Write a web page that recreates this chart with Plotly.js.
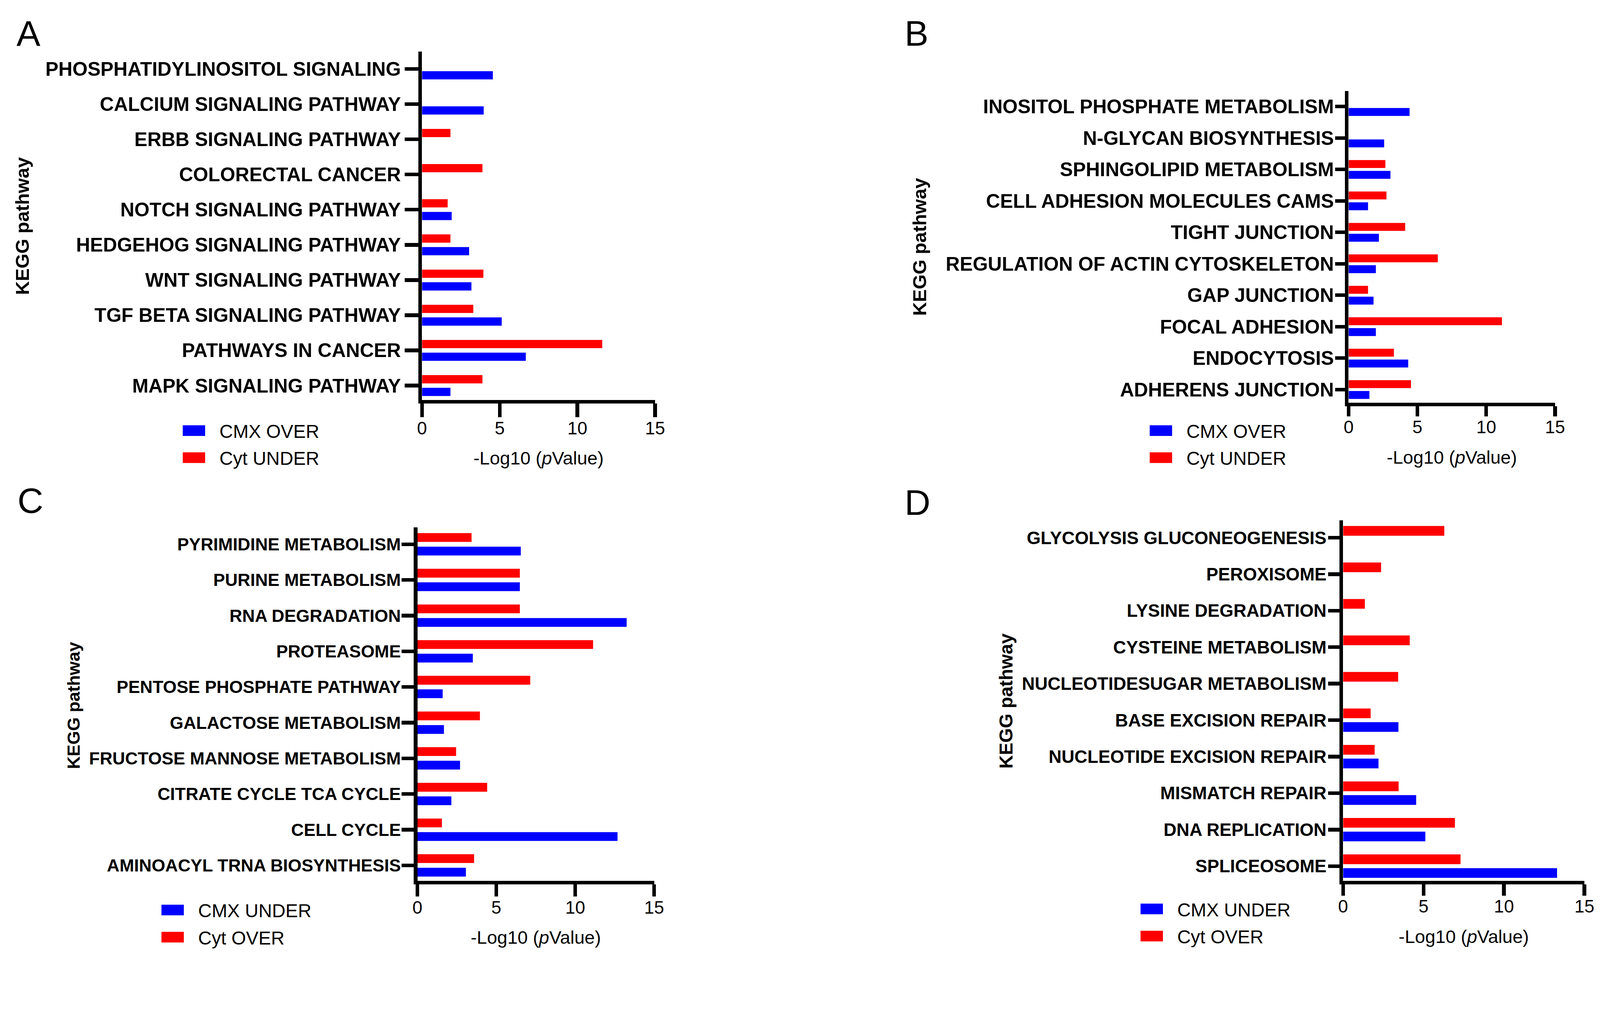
<!DOCTYPE html>
<html><head><meta charset="utf-8">
<script src="https://cdn.plot.ly/plotly-3.0.1.min.js"></script>
<style>
html,body{margin:0;padding:0;background:#fff;overflow:hidden;}
#wrap{position:absolute;left:0;top:0;width:1744px;height:1049.6px;transform-origin:0 0;background:#fff;}
.p{position:absolute;}
</style></head><body>
<div id="wrap">
<div id="pA" class="p"></div>
<div id="pB" class="p"></div>
<div id="pC" class="p"></div>
<div id="pD" class="p"></div>
</div>
<script>
// ---------- data (categories listed top to bottom) ----------
const catsA = ["PHOSPHATIDYLINOSITOL SIGNALING","CALCIUM SIGNALING PATHWAY","ERBB SIGNALING PATHWAY","COLORECTAL CANCER","NOTCH SIGNALING PATHWAY","HEDGEHOG SIGNALING PATHWAY","WNT SIGNALING PATHWAY","TGF BETA SIGNALING PATHWAY","PATHWAYS IN CANCER","MAPK SIGNALING PATHWAY"];
const cmxOverA = [4.56, 3.97, null, null, 1.91, 3.03, 3.18, 5.13, 6.68, 1.83];
const cytUnderA = [null, null, 1.83, 3.89, 1.65, 1.83, 3.95, 3.30, 11.60, 3.89];

const catsB = ["INOSITOL PHOSPHATE METABOLISM","N-GLYCAN BIOSYNTHESIS","SPHINGOLIPID METABOLISM","CELL ADHESION MOLECULES CAMS","TIGHT JUNCTION","REGULATION OF ACTIN CYTOSKELETON","GAP JUNCTION","FOCAL ADHESION","ENDOCYTOSIS","ADHERENS JUNCTION"];
const cmxOverB = [4.43, 2.58, 3.04, 1.41, 2.2, 1.98, 1.81, 1.98, 4.33, 1.51];
const cytUnderB = [null, null, 2.67, 2.75, 4.11, 6.48, 1.41, 11.14, 3.29, 4.53];

const catsC = ["PYRIMIDINE METABOLISM","PURINE METABOLISM","RNA DEGRADATION","PROTEASOME","PENTOSE PHOSPHATE PATHWAY","GALACTOSE METABOLISM","FRUCTOSE MANNOSE METABOLISM","CITRATE CYCLE TCA CYCLE","CELL CYCLE","AMINOACYL TRNA BIOSYNTHESIS"];
const cmxUnderC = [6.55, 6.49, 13.26, 3.51, 1.6, 1.68, 2.7, 2.15, 12.68, 3.07];
const cytOverC = [3.43, 6.49, 6.49, 11.13, 7.15, 3.96, 2.45, 4.42, 1.55, 3.59];

const catsD = ["GLYCOLYSIS GLUCONEOGENESIS","PEROXISOME","LYSINE DEGRADATION","CYSTEINE METABOLISM","NUCLEOTIDESUGAR METABOLISM","BASE EXCISION REPAIR","NUCLEOTIDE EXCISION REPAIR","MISMATCH REPAIR","DNA REPLICATION","SPLICEOSOME"];
const cmxUnderD = [null, null, null, null, null, 3.44, 2.2, 4.54, 5.11, 13.30];
const cytOverD = [6.29, 2.36, 1.35, 4.14, 3.42, 1.71, 1.96, 3.45, 6.95, 7.30];

const xTickVals = [0, 5, 10, 15];
const xTitle = "-Log10 (<i>p</i>Value)";
const yTitle = "KEGG pathway";

// ---------- rendering ----------
const S = 2.5;            // reference px per base px
const FONT = "Liberation Sans, Arial, Helvetica, sans-serif";
const BLUE = "#0000FF", RED = "#FF0000";

const CS = Math.min(window.innerWidth / 1744, window.innerHeight / 1049.6);
document.getElementById("wrap").style.transform = "scale(" + CS + ")";

// make the legend swatches wide rectangles like the original figure
function widenLegendSwatches(gd) {
  gd.querySelectorAll(".legend .legendpoints path").forEach(function (p) {
    p.setAttribute("d", "M4.4,5.8H-24.4V-5.8H4.4Z");
  });
}

// all geometry in reference pixels; ox/oy/W/H = panel box on the page
function makePanel(id, c) {
  const el = document.getElementById(id);
  el.style.left = (c.ox / S) + "px"; el.style.top = (c.oy / S) + "px";
  el.style.width = (c.W / S) + "px"; el.style.height = (c.H / S) + "px";
  const pw = c.x1 - c.x0, ph = c.y1 - c.y0;
  const traces = [
    {type: "bar", orientation: "h", name: c.blueName, x: c.blue, y: c.cats,
     marker: {color: BLUE, line: {width: 0}}, hoverinfo: "skip"},
    {type: "bar", orientation: "h", name: c.redName, x: c.red, y: c.cats,
     marker: {color: RED, line: {width: 0}}, hoverinfo: "skip"}
  ];
  const layout = {
    width: c.W / S, height: c.H / S,
    margin: {l: c.x0 / S, r: (c.W - c.x1) / S, t: c.y0 / S, b: (c.H - c.y1) / S, pad: 0},
    paper_bgcolor: "rgba(0,0,0,0)", plot_bgcolor: "rgba(0,0,0,0)",
    font: {family: FONT, color: "#000"},
    barmode: "group", bargap: c.bargap, bargroupgap: c.bgg,
    showlegend: true,
    legend: {xref: "container", yref: "container", x: c.legX / c.W, y: 1 - c.legY / c.H,
             xanchor: "left", yanchor: "top", bgcolor: "rgba(0,0,0,0)",
             font: {family: FONT, size: 20.4, color: "#000"}, traceorder: "normal"},
    xaxis: {range: [0, 15], tickvals: xTickVals, ticktext: xTickVals.map(String),
            showline: true, linewidth: 4, linecolor: "#000", mirror: false,
            ticks: "outside", ticklen: c.tlen, tickwidth: 4, tickcolor: "#000",
            ticklabelstandoff: -5,
            showgrid: false, zeroline: false, fixedrange: true,
            tickfont: {family: FONT, size: 19.6, color: "#000"},
            title: {text: xTitle, standoff: 17, font: {family: FONT, size: 20, color: "#000"}}},
    yaxis: {type: "category", categoryorder: "array", categoryarray: c.cats.slice().reverse(),
            range: c.yr, showline: true, linewidth: 4, linecolor: "#000",
            ticks: "outside", ticklen: c.tlen, tickwidth: 4, tickcolor: "#000",
            ticklabelstandoff: c.ytl,
            showgrid: false, zeroline: false, fixedrange: true,
            tickfont: {family: FONT, size: c.labSize, color: "#000", weight: "bold"}},
    annotations: [
      {text: c.letter, xref: "paper", yref: "paper",
       x: (c.lx - c.x0) / pw, y: (c.y1 - c.ly) / ph,
       xanchor: "center", yanchor: "middle", showarrow: false,
       font: {family: FONT, size: 39, color: "#000"}},
      {text: yTitle, xref: "paper", yref: "paper", textangle: -90,
       x: (c.tx - c.x0) / pw, y: (c.y1 - c.ty) / ph,
       xanchor: "center", yanchor: "middle", showarrow: false,
       font: {family: FONT, size: c.ySize, color: "#000", weight: "bold"}}
    ]
  };
  Plotly.newPlot(el, traces, layout, {staticPlot: true, displayModeBar: false})
    .then(widenLegendSwatches);
}

makePanel("pA", {cats: catsA, blue: cmxOverA, red: cytUnderA, blueName: "CMX OVER", redName: "Cyt UNDER",
  ox: 0, oy: 0, W: 2180, H: 1312,
  letter: "A", x0: 1150, x1: 1786, y0: 140, y1: 1090, yr: [-0.41, 9.5], bargap: 0.28, bgg: 0.35,
  labSize: 21.2, ySize: 20.8, tx: 57, ty: 615, tlen: 14.8, ytl: 0, legX: 498, legY: 1124, lx: 76, ly: 90});
makePanel("pB", {cats: catsB, blue: cmxOverB, red: cytUnderB, blueName: "CMX OVER", redName: "Cyt UNDER",
  ox: 2180, oy: 0, W: 2180, H: 1312,
  letter: "B", x0: 1495, x1: 2058, y0: 247, y1: 1096, yr: [-0.42, 9.5], bargap: 0.31, bgg: 0.27,
  labSize: 21.2, ySize: 20.8, tx: 325, ty: 671, tlen: 10.8, ytl: -3, legX: 953, legY: 1124, lx: 317, ly: 90});
makePanel("pC", {cats: catsC, blue: cmxUnderC, red: cytOverC, blueName: "CMX UNDER", redName: "Cyt OVER",
  ox: 0, oy: 1262, W: 2180, H: 1362,
  letter: "C", x0: 1137, x1: 1783, y0: 174, y1: 1138, yr: [-0.43, 9.47], bargap: 0.24, bgg: 0.35,
  labSize: 19.1, ySize: 19.2, tx: 198, ty: 658, tlen: 13.3, ytl: -3, legX: 440, legY: 1168, lx: 80, ly: 100});
makePanel("pD", {cats: catsD, blue: cmxUnderD, red: cytOverD, blueName: "CMX UNDER", redName: "Cyt OVER",
  ox: 2180, oy: 1262, W: 2180, H: 1362,
  letter: "D", x0: 1480, x1: 2138, y0: 155, y1: 1138, yr: [-0.40, 9.48], bargap: 0.25, bgg: 0.29,
  labSize: 19.5, ySize: 20.4, tx: 561, ty: 648, tlen: 12.2, ytl: -2, legX: 928, legY: 1165, lx: 319, ly: 105});
</script>
</body></html>
